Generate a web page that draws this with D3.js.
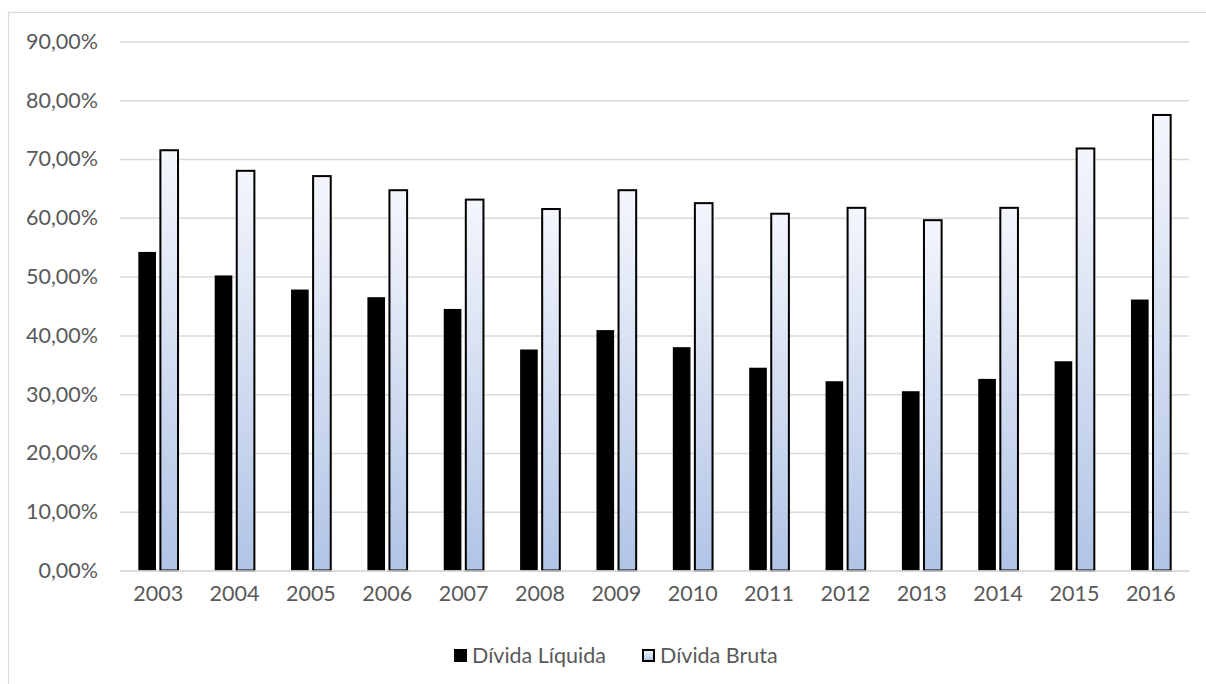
<!DOCTYPE html>
<html>
<head>
<meta charset="utf-8">
<script src="https://cdn.jsdelivr.net/npm/d3@7"></script>
<style>
  html, body { margin: 0; padding: 0; background: #fff; }
  svg text { font-family: Lato, "Open Sans", sans-serif; fill: #595959; }
</style>
</head>
<body>
<svg id="chart" width="1206" height="684"></svg>
<script>
// Dívida líquida e bruta (% do PIB), 2003–2016
const years = ["2003","2004","2005","2006","2007","2008","2009","2010","2011","2012","2013","2014","2015","2016"];
const dividaLiquida = [54.2, 50.2, 47.8, 46.5, 44.5, 37.6, 40.9, 38.0, 34.5, 32.2, 30.5, 32.6, 35.6, 46.1];
const dividaBruta   = [71.5, 68.0, 67.1, 64.7, 63.1, 61.5, 64.7, 62.5, 60.7, 61.7, 59.6, 61.7, 71.8, 77.5];
const seriesNames = ["Dívida Líquida", "Dívida Bruta"];
const yTicks = [0, 10, 20, 30, 40, 50, 60, 70, 80, 90];

const fontSize = 21.5;
const svg = d3.select("#chart");

// chart frame
svg.append("rect")
  .attr("x", 8.5).attr("y", 12.5)
  .attr("width", 1210).attr("height", 690)
  .attr("fill", "#fff").attr("stroke", "#d9d9d9").attr("stroke-width", 1.2);

const plotLeft = 120, plotRight = 1189, plotTop = 41.5, plotBottom = 570.5;

const x0 = d3.scaleBand().domain(years).range([plotLeft, plotRight])
  .paddingInner(0.48).paddingOuter(0.24);
const x1 = d3.scaleBand().domain(seriesNames).range([0, x0.bandwidth()])
  .paddingInner(0.2);
const y = d3.scaleLinear().domain([0, 90]).range([plotBottom, plotTop]);

const fmt = v => d3.format(".2f")(v).replace(".", ",") + "%";

// gradient for the gross-debt bars
const defs = svg.append("defs");
const grad = defs.append("linearGradient").attr("id", "brutaFill")
  .attr("x1", 0).attr("y1", 0).attr("x2", 0).attr("y2", 1);
grad.append("stop").attr("offset", "0%").attr("stop-color", "#f4f6fc");
grad.append("stop").attr("offset", "100%").attr("stop-color", "#b1c4e6");

// horizontal gridlines with percentage labels
const yAxis = d3.axisLeft(y).tickValues(yTicks).tickSize(-(plotRight - plotLeft)).tickFormat(fmt).tickPadding(22);
const gy = svg.append("g").attr("transform", `translate(${plotLeft},0)`).call(yAxis);
gy.select(".domain").remove();
gy.selectAll(".tick line").attr("stroke", "#d9d9d9").attr("stroke-width", 1.5);
gy.selectAll(".tick text").attr("font-size", fontSize).style("fill", "#595959");

// bars
const rows = years.map((yr, i) => ({ year: yr, values: [dividaLiquida[i], dividaBruta[i]] }));
const groups = svg.append("g").selectAll("g").data(rows).join("g")
  .attr("transform", d => `translate(${x0(d.year)},0)`);

groups.append("rect")
  .attr("x", x1(seriesNames[0]))
  .attr("y", d => y(d.values[0]))
  .attr("width", x1.bandwidth())
  .attr("height", d => y(0) - y(d.values[0]))
  .attr("fill", "#000");

groups.append("rect")
  .attr("x", x1(seriesNames[1]))
  .attr("y", d => y(d.values[1]))
  .attr("width", x1.bandwidth())
  .attr("height", d => y(0) - y(d.values[1]))
  .attr("fill", "url(#brutaFill)")
  .attr("stroke", "#000").attr("stroke-width", 2);

// category axis
const xAxis = d3.axisBottom(x0).tickSize(0).tickPadding(15);
const gx = svg.append("g").attr("transform", `translate(0,${plotBottom})`).call(xAxis);
gx.select(".domain").attr("stroke", "#d9d9d9").attr("stroke-width", 1.5);
gx.selectAll(".tick text").attr("font-size", fontSize).style("fill", "#595959");

// legend
const legend = svg.append("g").attr("transform", "translate(454,649)");
const items = [
  { name: seriesNames[0], dx: 0, fill: "#000", stroke: "none" },
  { name: seriesNames[1], dx: 188, fill: "url(#brutaFill)", stroke: "#000" }
];
const li = legend.selectAll("g").data(items).join("g")
  .attr("transform", d => `translate(${d.dx},0)`);
li.append("rect")
  .attr("x", d => d.stroke === "none" ? 0 : 1)
  .attr("y", d => d.stroke === "none" ? 0 : 1)
  .attr("width", d => d.stroke === "none" ? 13 : 11)
  .attr("height", d => d.stroke === "none" ? 13 : 11)
  .attr("fill", d => d.fill)
  .attr("stroke", d => d.stroke).attr("stroke-width", 2);
li.append("text")
  .attr("x", 18).attr("y", 6.5).attr("dy", "0.35em")
  .attr("font-size", fontSize)
  .text(d => d.name);
</script>
</body>
</html>
